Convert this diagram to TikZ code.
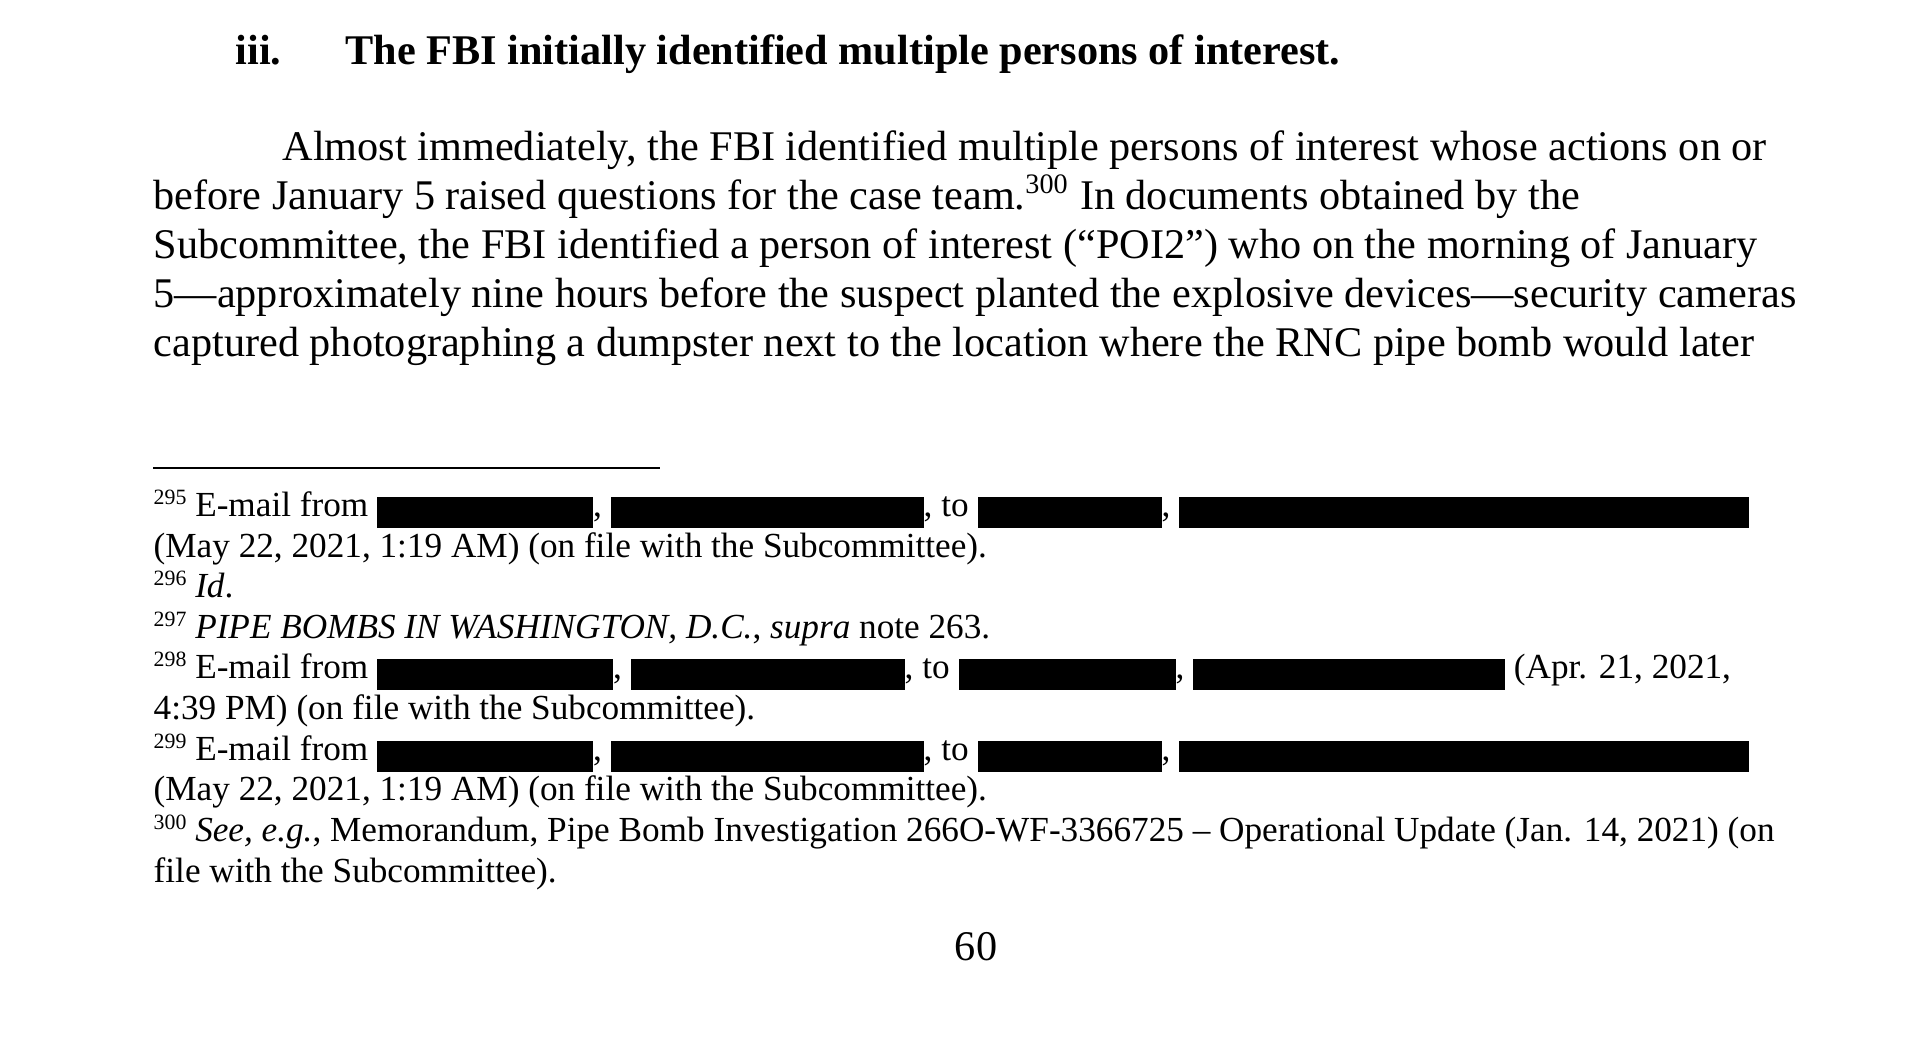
\documentclass[tikz,border=0pt]{standalone}
\usepackage{fontspec}
\setmainfont{Liberation Serif}
\usepackage{tikz}
\newdimen\pxu
\pxu=0.284pt
% blacked out names
\newcommand{\redact}[1]{\rule[-12\pxu]{#1\pxu}{31\pxu}}
\newcommand{\fnnum}[1]{\raisebox{3.4pt}{\fontsize{6.2}{7}\selectfont #1}}
\tikzset{
  txt/.style={anchor=base west,inner sep=0pt,font=\fontsize{12}{14}\selectfont},
  fn/.style={anchor=base west,inner sep=0pt,font=\fontsize{10}{11.5}\selectfont},
}

\begin{document}
\begin{tikzpicture}[x=0.284pt,y=-0.284pt]
      \fill[white] (0,0) rectangle (1920,1052);
      \useasboundingbox (0,0) rectangle (1920,1052);

      \node[txt,font=\fontsize{12}{14}\bfseries] (hnum) at (235,64) {iii.};
      \node[txt,font=\fontsize{12}{14}\bfseries] (head) at (345,64) {The FBI initially identified multiple persons of interest.};

      \node[txt] (l1) at (282,160) {Almost immediately, the FBI identified multiple persons of interest whose actions on or};
      \node[txt] (l2) at (153,209) {before January 5 raised questions for the case team.\textsuperscript{300} In documents obtained by the};
      \node[txt] (l3) at (153,258) {Subcommittee, the FBI identified a person of interest (“POI2”) who on the morning of January};
      \node[txt] (l4) at (153,307) {5—approximately nine hours before the suspect planted the explosive devices—security cameras};
      \node[txt] (l5) at (153,356) {captured photographing a dumpster next to the location where the RNC pipe bomb would later};

      \draw[line width=0.5pt] (153,468) -- (660,468);

      \node[fn] (f295) at (153,516) {\fnnum{295} E-mail from \redact{216}, \redact{313}, to \redact{184}, \redact{570}};
      \node[fn] (f295b) at (153,557) {(May 22, 2021, 1:19 AM) (on file with the Subcommittee).};
      \node[fn] (f296) at (153,597) {\fnnum{296} \textit{Id}.};
      \node[fn] (f297) at (153,638) {\fnnum{297} \textit{PIPE BOMBS IN WASHINGTON, D.C.}, \textit{supra} note 263.};
      \node[fn] (f298) at (153,678) {\fnnum{298} E-mail from \redact{236}, \redact{274}, to \redact{217}, \redact{312} (Apr. 21, 2021,};
      \node[fn] (f298b) at (153,719) {4:39 PM) (on file with the Subcommittee).};
      \node[fn] (f299) at (153,760) {\fnnum{299} E-mail from \redact{216}, \redact{313}, to \redact{184}, \redact{570}};
      \node[fn] (f299b) at (153,800) {(May 22, 2021, 1:19 AM) (on file with the Subcommittee).};
      \node[fn] (f300) at (153,841) {\fnnum{300} \textit{See, e.g.}, Memorandum, Pipe Bomb Investigation 266O-WF-3366725 – Operational Update (Jan. 14, 2021) (on};
      \node[fn] (f300b) at (153,882) {file with the Subcommittee).};

      \node[txt,anchor=base] (pnum) at (976,960) {60};
\end{tikzpicture}
\end{document}
